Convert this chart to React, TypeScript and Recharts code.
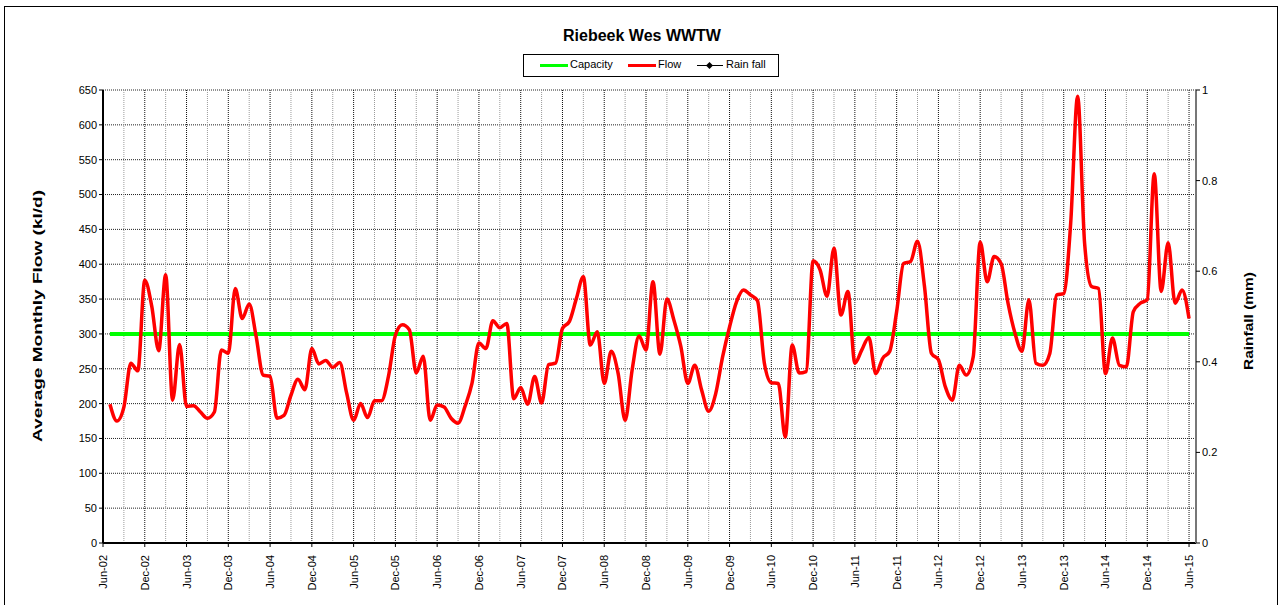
import React from 'react';
import { LineChart, Line, XAxis, YAxis, CartesianGrid, ReferenceLine } from 'recharts';

// x axis labels, one every 6 months starting Jun-02 (month index 0)
const TICK_LABELS = [
  'Jun-02', 'Dec-02', 'Jun-03', 'Dec-03', 'Jun-04', 'Dec-04', 'Jun-05', 'Dec-05', 'Jun-06',
  'Dec-06', 'Jun-07', 'Dec-07', 'Jun-08', 'Dec-08', 'Jun-09', 'Dec-09', 'Jun-10', 'Dec-10',
  'Jun-11', 'Dec-11', 'Jun-12', 'Dec-12', 'Jun-13', 'Dec-13', 'Jun-14', 'Dec-14', 'Jun-15',
];

// average monthly flow (kl/d), Jul-02 .. Jun-15
const FLOW = [
  199, 175, 195, 258, 247, 377, 340, 276, 385, 205, 285, 196,
  197, 188, 179, 188, 277, 272, 365, 322, 343, 296, 241, 239,
  179, 183, 212, 235, 220, 279, 257, 262, 252, 259, 215, 176,
  200, 180, 204, 204, 239, 298, 313, 306, 244, 268, 176, 198,
  195, 179, 172, 196, 229, 287, 279, 319, 309, 315, 207, 223,
  199, 239, 201, 256, 258, 308, 318, 351, 382, 284, 303, 229,
  275, 243, 176, 248, 297, 277, 375, 271, 350, 320, 282, 229,
  255, 219, 189, 214, 267, 310, 346, 363, 356, 348, 258, 230,
  229, 152, 284, 244, 246, 405, 392, 354, 423, 327, 361, 258,
  277, 295, 243, 265, 275, 332, 401, 404, 433, 368, 272, 263,
  224, 205, 255, 241, 267, 432, 375, 411, 401, 344, 301, 275,
  349, 258, 255, 272, 356, 358, 459, 641, 430, 368, 365, 243,
  294, 255, 253, 332, 344, 349, 530, 361, 431, 344, 363, 322,
];

const CAPACITY = 300;
const FLOW_TICKS = [0, 50, 100, 150, 200, 250, 300, 350, 400, 450, 500, 550, 600, 650];
const RAIN_TICKS = [0, 0.2, 0.4, 0.6, 0.8, 1];

const data = FLOW.map((v, i) => ({ m: i + 1, flow: v, capacity: CAPACITY, rain: null }));
const xTicks = TICK_LABELS.map((_, i) => i * 6);
const quarterLines = Array.from({ length: 52 }, (_, i) => (i + 1) * 3);

const FONT = 'Arial, "Liberation Sans", sans-serif';

const DateTick = (props: any) => {
  const { x, y, payload } = props;
  const label = TICK_LABELS[Math.round(payload.value / 6)];
  return (
    <g transform={`translate(${x},${y + 6})`}>
      <text transform="rotate(-90)" textAnchor="end" dy={4} fontSize={11} fill="#000" fontFamily={FONT}>
        {label}
      </text>
    </g>
  );
};

export default function App() {
  return (
    <div style={{ position: 'absolute', left: 0, top: 0, width: 1282, height: 605, background: '#fff', fontFamily: FONT, overflow: 'hidden' }}>
      <div style={{ position: 'absolute', left: 4, top: 6, width: 1272, height: 610, border: '1px solid #000' }} />
      <div style={{ position: 'absolute', left: 0, width: 1284, top: 27, textAlign: 'center', fontSize: 16, fontWeight: 'bold' }}>
        Riebeek Wes WWTW
      </div>

      {/* legend */}
      <div style={{ position: 'absolute', left: 523, top: 54, width: 254, height: 21, border: '1px solid #000', fontSize: 11 }}>
        <div style={{ position: 'absolute', left: 16, top: 9, width: 28, height: 3, background: '#00ff00' }} />
        <div style={{ position: 'absolute', left: 46, top: 3 }}>Capacity</div>
        <div style={{ position: 'absolute', left: 104, top: 9, width: 28, height: 3, background: '#ff0000' }} />
        <div style={{ position: 'absolute', left: 134, top: 3 }}>Flow</div>
        <div style={{ position: 'absolute', left: 173, top: 10, width: 26, height: 1, background: '#000' }} />
        <div style={{ position: 'absolute', left: 183, top: 8, width: 5, height: 5, background: '#000', transform: 'rotate(45deg)' }} />
        <div style={{ position: 'absolute', left: 202, top: 3 }}>Rain fall</div>
      </div>

      <div style={{ position: 'absolute', left: 0, top: 0 }}>
        <LineChart width={1282} height={605} data={data} margin={{ top: 90, right: 26, bottom: 17, left: 43 }}>
          <CartesianGrid vertical={false} stroke="#222" strokeDasharray="1 1" yAxisId="left" />
          {quarterLines.map((q) => (
            <ReferenceLine
              key={q}
              x={q}
              yAxisId="left"
              stroke={q % 6 === 0 ? '#111' : '#9a9a9a'}
              strokeDasharray="1 1"
              strokeWidth={1}
            />
          ))}
          <XAxis
            dataKey="m"
            type="number"
            domain={[0, 157]}
            ticks={xTicks}
            interval={0}
            height={45}
            tick={<DateTick />}
            tickLine={{ stroke: '#000' }}
            tickSize={4}
            axisLine={{ stroke: '#000', strokeWidth: 2 }}
          />
          <YAxis
            yAxisId="left"
            type="number"
            domain={[0, 650]}
            ticks={FLOW_TICKS}
            interval={0}
            width={60}
            tick={{ fontSize: 11, fill: '#000', fontFamily: FONT }}
            tickLine={{ stroke: '#000' }}
            tickSize={4}
            axisLine={{ stroke: '#000', strokeWidth: 2 }}
          />
          <YAxis
            yAxisId="right"
            orientation="right"
            type="number"
            domain={[0, 1]}
            allowDataOverflow
            ticks={RAIN_TICKS}
            interval={0}
            width={60}
            tick={{ fontSize: 11, fill: '#000', fontFamily: FONT }}
            tickLine={{ stroke: '#000' }}
            tickSize={4}
            axisLine={{ stroke: '#777', strokeWidth: 2 }}
          />
          <Line yAxisId="left" type="linear" dataKey="capacity" stroke="#00ff00" strokeWidth={4} dot={false} isAnimationActive={false} />
          <Line yAxisId="left" type="monotone" dataKey="flow" stroke="#ff0000" strokeWidth={3.5} dot={false} isAnimationActive={false} />
          <Line yAxisId="right" type="linear" dataKey="rain" stroke="#000" dot={false} isAnimationActive={false} />
        </LineChart>
      </div>

      <svg width={1282} height={605} style={{ position: 'absolute', left: 0, top: 0, pointerEvents: 'none' }}>
        <text
          transform="translate(42,316) rotate(-90)"
          textAnchor="middle"
          fontSize={13}
          fontWeight="bold"
          fontFamily={FONT}
          textLength={252}
          lengthAdjust="spacingAndGlyphs"
        >
          Average Monthly Flow (kl/d)
        </text>
        <text
          transform="translate(1253,321) rotate(-90)"
          textAnchor="middle"
          fontSize={13}
          fontWeight="bold"
          fontFamily={FONT}
          textLength={98}
          lengthAdjust="spacingAndGlyphs"
        >
          Rainfall (mm)
        </text>
      </svg>
    </div>
  );
}
